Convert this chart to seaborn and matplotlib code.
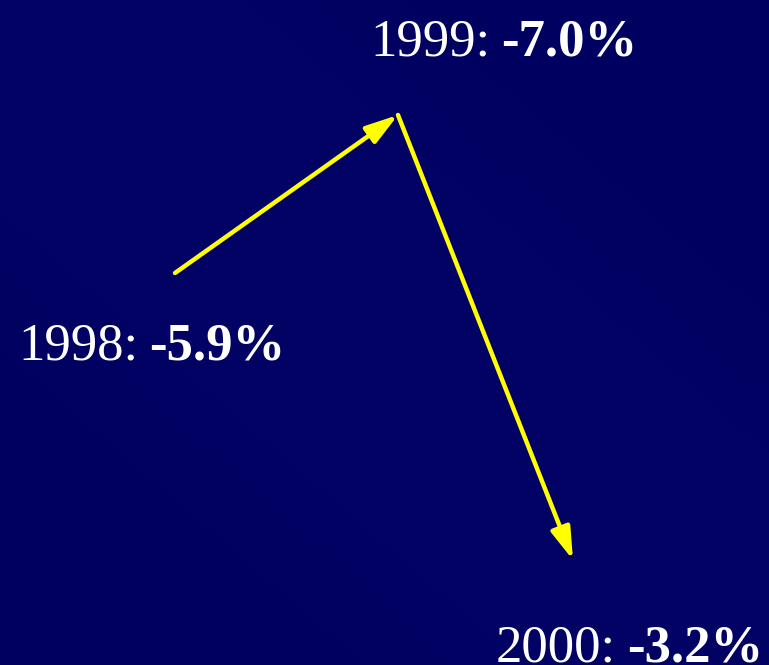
import matplotlib
matplotlib.use("Agg")
import matplotlib.pyplot as plt
import seaborn as sns
import numpy as np

# Annual change figures
years = ["1998", "1999", "2000"]
changes = [-5.9, -7.0, -3.2]

# Slide layout (canvas pixels, origin top-left): arrow anchors and label anchors
anchor_x = [175, 398, 573]
anchor_y = [273, 115, 560]
label_x = [18, 370, 496]
label_y = [360, 55, 662]

BG = "#00005f"
ARROW = "#ffff00"

sns.set_theme(style="white", rc={"axes.facecolor": BG, "figure.facecolor": BG})
plt.rcParams["font.family"] = ["Liberation Serif", "DejaVu Serif"]

W, H = 769, 665
fig = plt.figure(figsize=(W / 100, H / 100), dpi=100)
ax = fig.add_axes([0, 0, 1, 1])
ax.set_xlim(0, W)
ax.set_ylim(H, 0)
ax.axis("off")

# very faint diagonal sheen on the navy background
yy, xx = np.mgrid[0:H, 0:W]
d = np.exp(-(((xx / W) + (1 - yy / H) - 1.0) ** 2) / 0.25)
base = np.array([0, 0, 96]) / 255
glow = np.array([3, 3, 102]) / 255
img = base + (glow - base) * d[..., None]
ax.imshow(img, extent=(0, W, H, 0), zorder=0, aspect="auto")

# arrows linking consecutive years
for i in range(len(years) - 1):
    ax.annotate(
        "",
        xy=(anchor_x[i + 1], anchor_y[i + 1]),
        xytext=(anchor_x[i], anchor_y[i]),
        arrowprops=dict(
            arrowstyle="-|>,head_length=0.65,head_width=0.2",
            mutation_scale=30,
            color=ARROW,
            lw=3.2,
            shrinkA=0,
            shrinkB=0,
        ),
        zorder=3,
    )

# year labels with bold values
for yr, val, lx, ly in zip(years, changes, label_x, label_y):
    t = ax.text(lx, ly, f"{yr}:", color="white", fontsize=38,
                va="baseline", ha="left", zorder=4)
    ax.annotate(f"{val:.1f}%", xy=(1, 0), xycoords=t,
                xytext=(8, 0), textcoords="offset points",
                color="white", fontsize=38, fontweight="bold",
                va="bottom", ha="left", zorder=4)

fig.savefig("out.png", dpi=100, facecolor=BG)
